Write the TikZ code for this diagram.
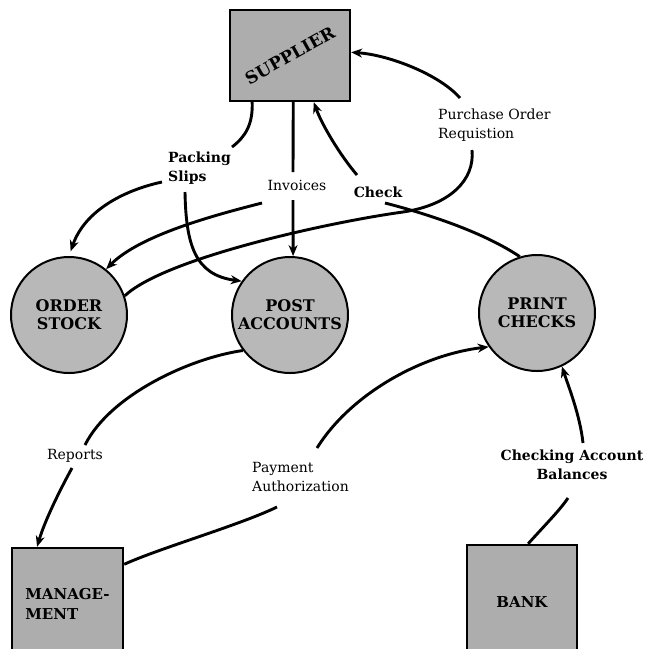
\documentclass[tikz,border=0pt]{standalone}
\usepackage{fontspec}
\setmainfont{DejaVu Serif}
\usetikzlibrary{arrows.meta,calc}
\begin{document}
\begin{tikzpicture}[x=1pt,y=-1pt,
  flow/.style={line width=2.9pt},
  arr/.style={flow,-{Stealth[length=11pt,width=9pt]}},
  proc/.style={circle,draw,line width=2pt,fill=black!28,minimum size=116pt,inner sep=0pt,
    font=\fontsize{16}{18}\selectfont\bfseries,align=center},
  ent/.style={rectangle,draw,line width=2.4pt,fill=black!32,inner sep=0pt},
  lbl/.style={inner sep=0pt,font=\fontsize{14}{19}\selectfont},
  lblb/.style={inner sep=0pt,font=\fontsize{14}{19}\selectfont\bfseries}
]
\fill[white] (0,0) rectangle (645,649);
\useasboundingbox (0,0) rectangle (645,649);
\clip (0,0) rectangle (645,649);

% entities and processes
\node[ent,minimum width=120pt,minimum height=91pt,font=\fontsize{17}{20}\selectfont\bfseries] (sup) at (290,55.5) {\rotatebox{29}{SUPPLIER}};
\node[proc] (os) at (69,315) {ORDER\\STOCK};
\node[proc] (post) at (290,315) {POST\\ACCOUNTS};
\node[proc] (pr) at (537,313) {PRINT\\CHECKS};
\node[ent,minimum width=111pt,minimum height=112pt,align=left,font=\fontsize{15}{20}\selectfont\bfseries] (mg) at (67.5,604) {MANAGE-\\MENT};
\node[ent,minimum width=110pt,minimum height=114pt,font=\fontsize{15}{17}\selectfont\bfseries] (bank) at (522,602) {BANK};

% flow labels
\node[lblb,anchor=west,align=left] (pk) at (168,168) {Packing\\Slips};
\node[lbl] (inv) at (297,185) {Invoices};
\node[lblb] (chk) at (378,192) {Check};
\node[lbl,anchor=west,align=left] (po) at (438,125) {Purchase Order\\Requistion};
\node[lbl] (rep) at (75,456) {Reports};
\node[lbl,anchor=west,align=left] (pay) at (252,477) {Payment\\Authorization};
\node[lblb,align=center] (cab) at (572,465) {Checking Account\\Balances};

% packing slips
\draw[flow] (sup.231) .. controls (253,125) and (245,137) .. ($(pk.west)+(64,-21)$);
\draw[arr,shorten >=5pt] ($(pk.west)+(-6,14)$) .. controls (125,190) and (85,210) .. (os.north);
\draw[arr] ($(pk.west)+(17,24)$) .. controls (186,245) and (195,275) .. (post.145);
% invoices
\draw[flow] (sup.274) -- ($(inv)+(-4,-13)$);
\draw[arr] ($(inv)+(-4,15)$) -- (post.87);
\draw[arr] ($(inv)+(-35,18)$) .. controls (215,215) and (140,235) .. (os.51);
% check
\draw[flow] (pr.107) .. controls (480,230) and (420,212) .. ($(chk)+(7,11)$);
\draw[arr] ($(chk)+(-21,-17)$) .. controls (340,155) and (322,125) .. (sup.297);
% purchase order requistion
\draw[flow] (os.19) .. controls (165,258) and (330,222) .. (403,212)
   .. controls (450,205) and (475,180) .. ($(po.west)+(34,25)$);
\draw[arr] ($(po.west)+(22,-27)$) .. controls (440,75) and (390,55) .. (sup.3);
% reports
\draw[flow] (post.217) .. controls (190,358) and (110,395) .. ($(rep)+(10,-11)$);
\draw[arr] ($(rep)+(-3,12)$) .. controls (60,490) and (45,520) .. (mg.118);
% payment authorization
\draw[flow] (mg.35) .. controls (160,548) and (240,525) .. ($(pay.west)+(25,30)$);
\draw[arr] ($(pay.west)+(65,-29)$) .. controls (350,395) and (420,355) .. (pr.215);
% checking account balances
\draw[flow] (bank.84) .. controls (545,525) and (560,510) .. ($(cab)+(-4,33)$);
\draw[arr] ($(cab)+(11,-22)$) .. controls (580,415) and (568,385) .. (pr.295);
\end{tikzpicture}
\end{document}
